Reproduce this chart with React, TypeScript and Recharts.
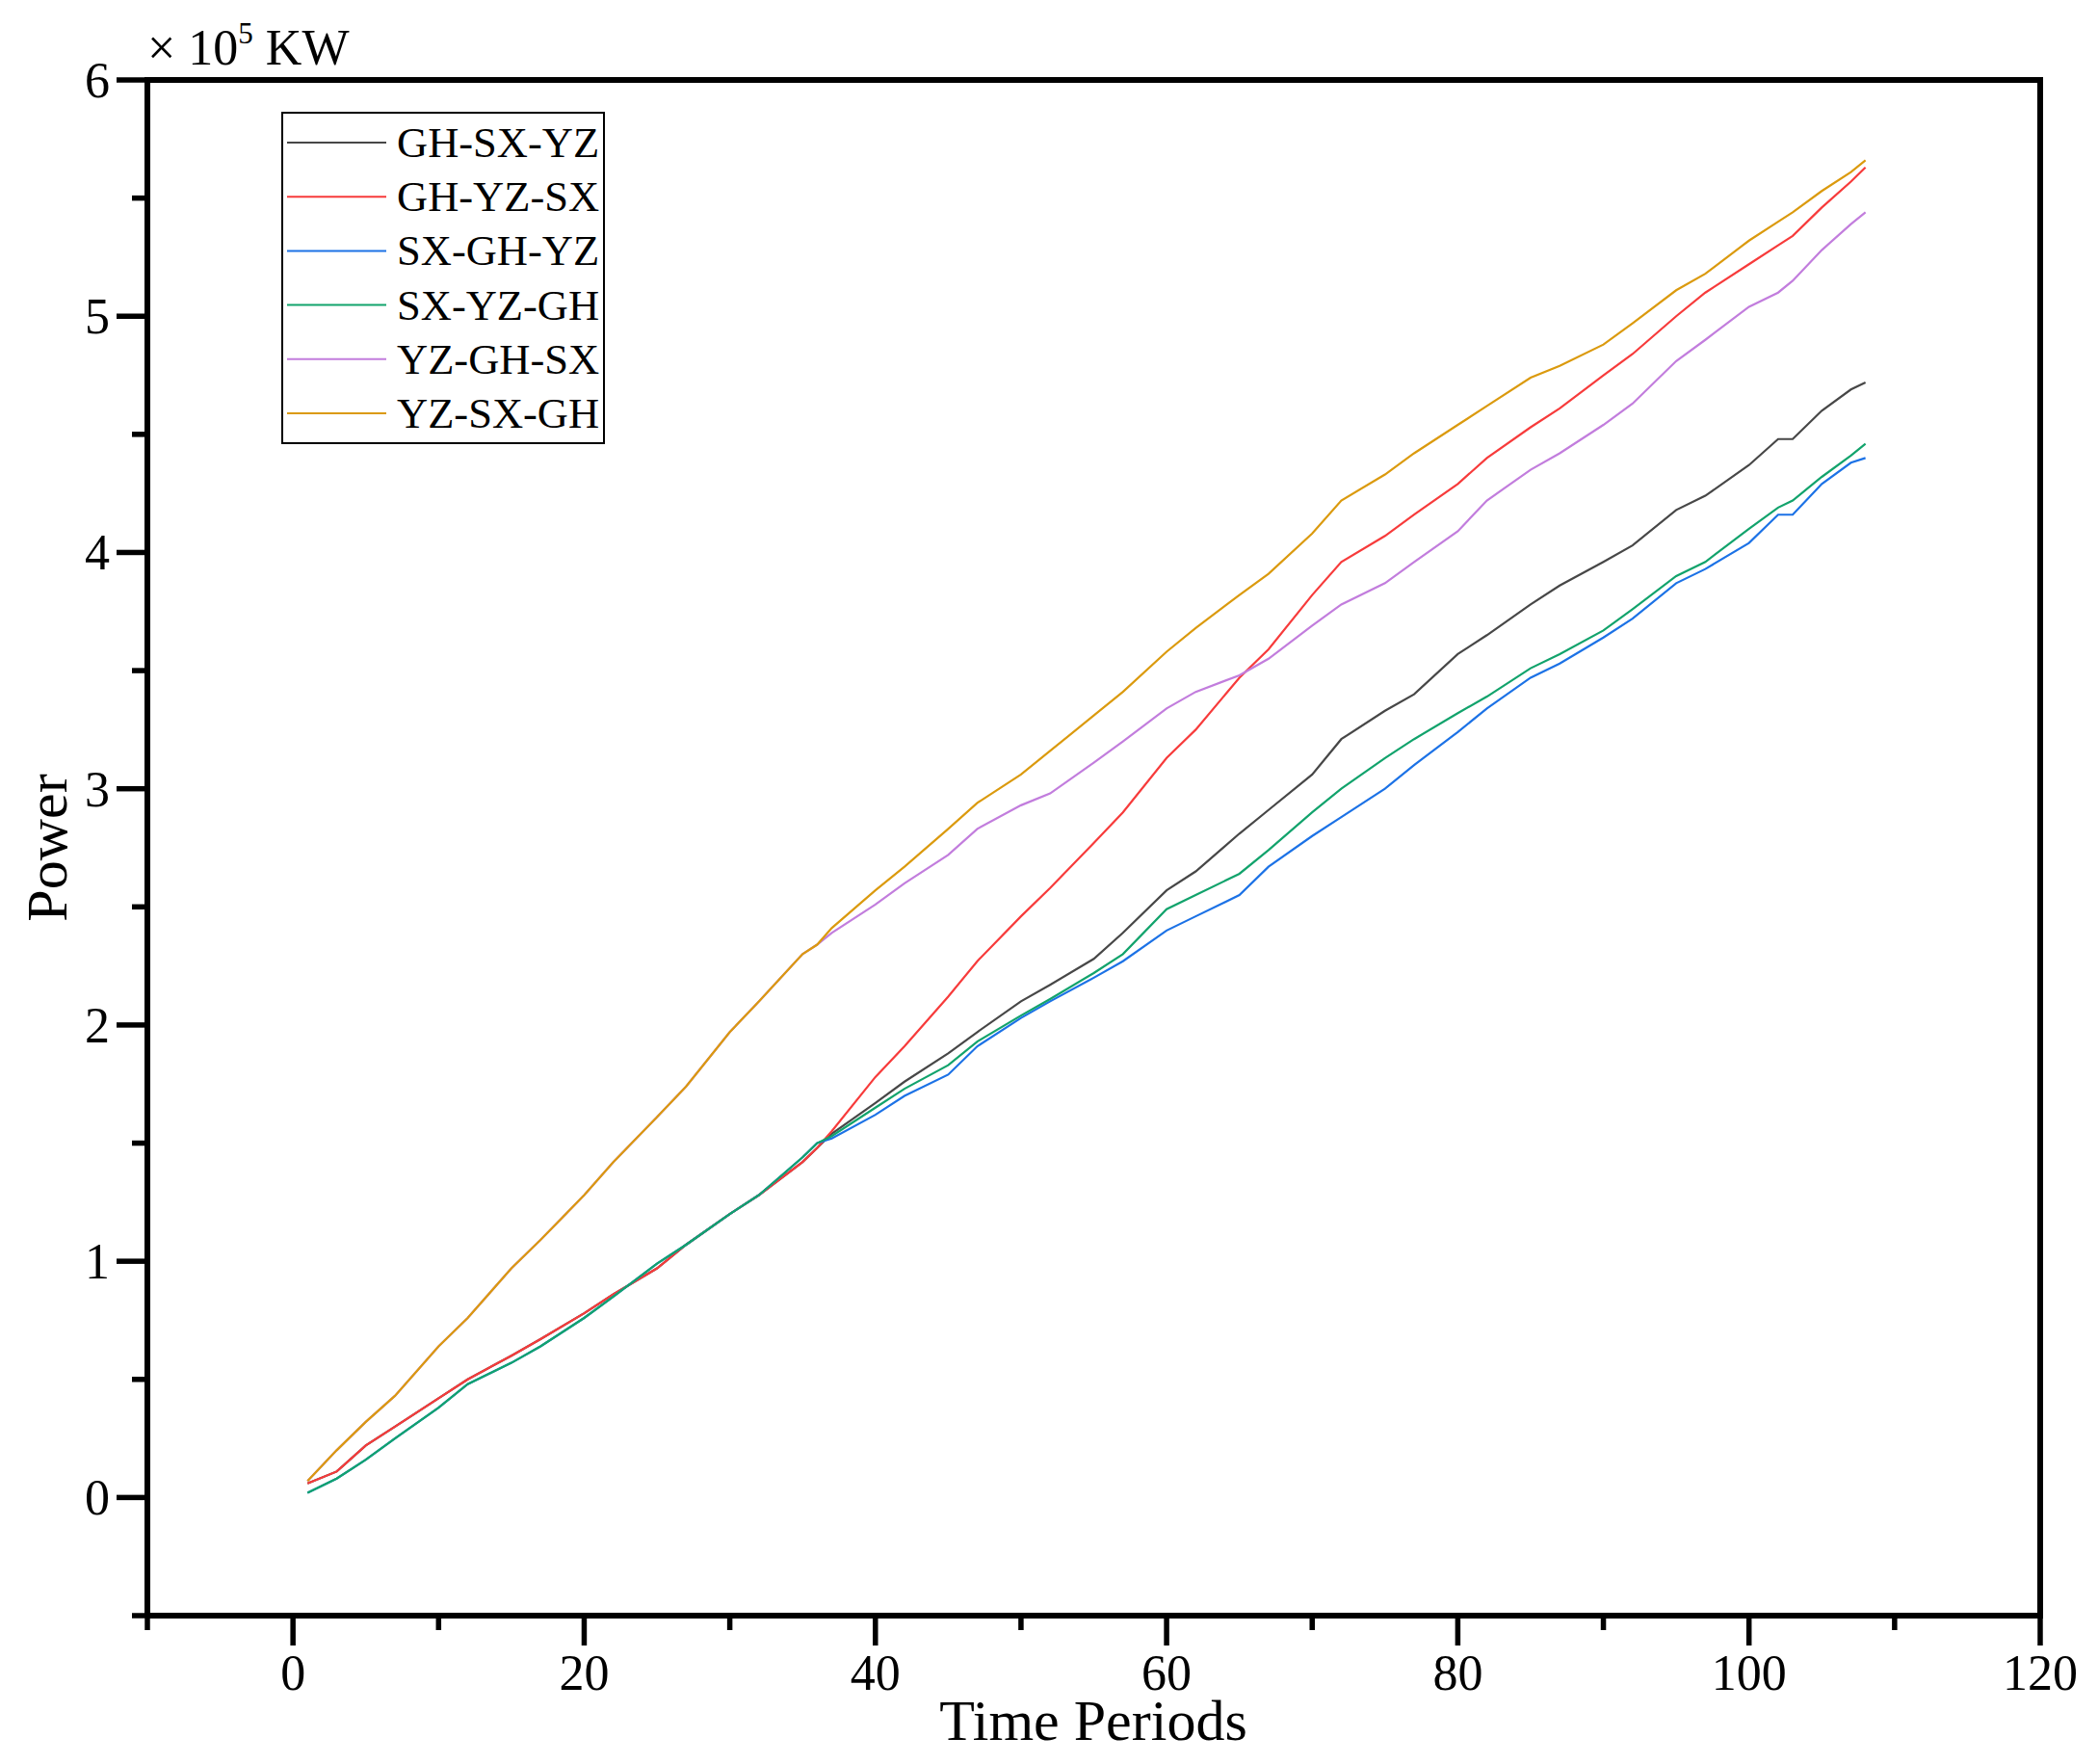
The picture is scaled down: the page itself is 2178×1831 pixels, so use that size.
import React from 'react';
import {
	LineChart,
	Line,
	XAxis,
	YAxis,
	Legend,
	ReferenceLine,
	Customized,
} from 'recharts';

const FONT = '"Liberation Serif", "Times New Roman", serif';

// time periods
const periods = [
	1, 3, 5, 7, 10, 12, 15, 17, 20, 22, 25, 27, 30, 32, 35, 36, 37, 40, 42, 45, 47, 50, 52, 55,
	57, 60, 62, 65, 67, 70, 72, 75, 77, 80, 82, 85, 87, 90, 92, 95, 97, 100, 102, 103, 105, 107,
	108,
];

// power, x 10^5 KW
const ghSxYz = [
	0.06, 0.11, 0.22, 0.3, 0.42, 0.5, 0.6, 0.67, 0.78, 0.86, 0.97, 1.07, 1.2, 1.28, 1.42, 1.48,
	1.54, 1.67, 1.76, 1.88, 1.97, 2.1, 2.17, 2.28, 2.39, 2.57, 2.65, 2.81, 2.91, 3.06, 3.21, 3.33,
	3.4, 3.57, 3.65, 3.78, 3.86, 3.96, 4.03, 4.18, 4.24, 4.37, 4.48, 4.48, 4.6, 4.69, 4.72,
];
const ghYzSx = [
	0.06, 0.11, 0.22, 0.3, 0.42, 0.5, 0.6, 0.67, 0.78, 0.86, 0.97, 1.07, 1.2, 1.28, 1.42, 1.48,
	1.55, 1.78, 1.91, 2.12, 2.27, 2.46, 2.58, 2.77, 2.9, 3.13, 3.25, 3.47, 3.59, 3.82, 3.96, 4.07,
	4.16, 4.29, 4.4, 4.53, 4.61, 4.75, 4.84, 5.0, 5.1, 5.22, 5.3, 5.34, 5.46, 5.57, 5.63,
];
const sxGhYz = [
	0.02, 0.08, 0.16, 0.25, 0.38, 0.48, 0.57, 0.64, 0.76, 0.85, 0.99, 1.07, 1.2, 1.28, 1.44, 1.5,
	1.52, 1.62, 1.7, 1.79, 1.91, 2.03, 2.1, 2.2, 2.27, 2.4, 2.46, 2.55, 2.67, 2.8, 2.88, 3.0, 3.1,
	3.24, 3.34, 3.47, 3.53, 3.64, 3.72, 3.87, 3.93, 4.04, 4.16, 4.16, 4.29, 4.38, 4.4,
];
const sxYzGh = [
	0.02, 0.08, 0.16, 0.25, 0.38, 0.48, 0.57, 0.64, 0.76, 0.85, 0.99, 1.07, 1.2, 1.28, 1.44, 1.5,
	1.53, 1.65, 1.73, 1.83, 1.93, 2.04, 2.11, 2.22, 2.3, 2.49, 2.55, 2.64, 2.74, 2.9, 3.0, 3.13,
	3.21, 3.32, 3.39, 3.51, 3.57, 3.67, 3.76, 3.9, 3.96, 4.1, 4.19, 4.22, 4.32, 4.41, 4.46,
];
const yzGhSx = [
	0.07, 0.2, 0.32, 0.43, 0.64, 0.76, 0.97, 1.09, 1.28, 1.42, 1.61, 1.74, 1.97, 2.1, 2.3, 2.34,
	2.39, 2.51, 2.6, 2.72, 2.83, 2.93, 2.98, 3.11, 3.2, 3.34, 3.41, 3.48, 3.55, 3.69, 3.78, 3.87,
	3.96, 4.09, 4.22, 4.35, 4.42, 4.54, 4.63, 4.81, 4.9, 5.04, 5.1, 5.15, 5.28, 5.39, 5.44,
];
const yzSxGh = [
	0.07, 0.2, 0.32, 0.43, 0.64, 0.76, 0.97, 1.09, 1.28, 1.42, 1.61, 1.74, 1.97, 2.1, 2.3, 2.34,
	2.41, 2.57, 2.67, 2.83, 2.94, 3.06, 3.16, 3.31, 3.41, 3.58, 3.68, 3.82, 3.91, 4.08, 4.22, 4.33,
	4.42, 4.54, 4.62, 4.74, 4.79, 4.88, 4.97, 5.11, 5.18, 5.32, 5.4, 5.44, 5.53, 5.61, 5.66,
];

const seriesNames = ['GH-SX-YZ', 'GH-YZ-SX', 'SX-GH-YZ', 'SX-YZ-GH', 'YZ-GH-SX', 'YZ-SX-GH'];
const seriesValues = [ghSxYz, ghYzSx, sxGhYz, sxYzGh, yzGhSx, yzSxGh];
const seriesColors = ['#474747', '#f73b3b', '#1c72e6', '#12a36c', '#c27ddd', '#db9a0e'];

const xTicks = [-10, 0, 10, 20, 30, 40, 50, 60, 70, 80, 90, 100, 110, 120];
const yTicks = [-0.5, 0, 0.5, 1, 1.5, 2, 2.5, 3, 3.5, 4, 4.5, 5, 5.5, 6];

const data = periods.map((t, i) => {
	const row: any = { t };
	seriesNames.forEach((name, k) => {
		row[name] = seriesValues[k][i];
	});
	return row;
});

const XTick = ({ x, y, payload }: any) => {
	const v = payload.value;
	const major = v % 20 === 0;
	return (
		<g>
			<line x1={x} x2={x} y1={y} y2={y + (major ? 31 : 15)} stroke='#000' strokeWidth={5.5} />
			{major && (
				<text x={x} y={y + 77} textAnchor='middle' fontSize={52} fontFamily={FONT} fill='#000'>
					{v}
				</text>
			)}
		</g>
	);
};

const YTick = ({ x, y, payload }: any) => {
	const v = payload.value;
	const major = Number.isInteger(v);
	return (
		<g>
			<line x1={x} x2={x - (major ? 32 : 16)} y1={y} y2={y} stroke='#000' strokeWidth={5.5} />
			{major && (
				<text x={x - 39} y={y + 18} textAnchor='end' fontSize={52} fontFamily={FONT} fill='#000'>
					{v}
				</text>
			)}
		</g>
	);
};

const Annotations = () => (
	<g fontFamily={FONT} fill='#000'>
		<text x={153} y={67} fontSize={52}>
			× 10
			<tspan dy={-22} fontSize={31}>
				5
			</tspan>
			<tspan dy={22}> KW</tspan>
		</text>
		<text x={1135} y={1806} textAnchor='middle' fontSize={60}>
			Time Periods
		</text>
		<text x={69} y={880} textAnchor='middle' fontSize={60} transform='rotate(-90, 69, 880)'>
			Power
		</text>
	</g>
);

const LegendBox = () => (
	<svg width={336} height={345} style={{ display: 'block' }}>
		<rect x={1} y={1} width={334} height={343} fill='#fff' stroke='#000' strokeWidth={2} />
		{seriesNames.map((name, k) => {
			const cy = 32 + k * 56.2;
			return (
				<g key={name}>
					<line x1={6} x2={109} y1={cy} y2={cy} stroke={seriesColors[k]} strokeWidth={2} />
					<text x={120} y={cy + 15} fontSize={44.5} fontFamily={FONT} fill='#000'>
						{name}
					</text>
				</g>
			);
		})}
	</svg>
);

export default function App() {
	return (
		<div style={{ position: 'absolute', left: 0, top: 0, width: 2178, height: 1831, background: '#fff' }}>
			<LineChart
				width={2178}
				height={1831}
				data={data}
				margin={{ top: 83, right: 60, bottom: 0, left: 0 }}
			>
				<XAxis
					dataKey='t'
					type='number'
					domain={[-10, 120]}
					ticks={xTicks}
					interval={0}
					height={154}
					tickSize={0}
					tickMargin={0}
					tickLine={false}
					tick={<XTick />}
					axisLine={{ stroke: '#000', strokeWidth: 6 }}
				/>
				<YAxis
					type='number'
					domain={[-0.5, 6]}
					ticks={yTicks}
					interval={0}
					width={153}
					tickSize={0}
					tickMargin={0}
					tickLine={false}
					tick={<YTick />}
					axisLine={{ stroke: '#000', strokeWidth: 6 }}
				/>
				<ReferenceLine y={6} stroke='#000' strokeWidth={6} strokeLinecap='square' />
				<ReferenceLine x={120} stroke='#000' strokeWidth={6} strokeLinecap='square' />
				{seriesNames.map((name, k) => (
					<Line
						key={name}
						type='linear'
						dataKey={name}
						stroke={seriesColors[k]}
						strokeWidth={2.2}
						dot={false}
						isAnimationActive={false}
					/>
				))}
				<Legend
					layout='vertical'
					align='center'
					verticalAlign='middle'
					content={<LegendBox />}
					wrapperStyle={{ left: 292, top: 116, width: 336, height: 345 }}
				/>
				<Customized component={Annotations} />
			</LineChart>
		</div>
	);
}
